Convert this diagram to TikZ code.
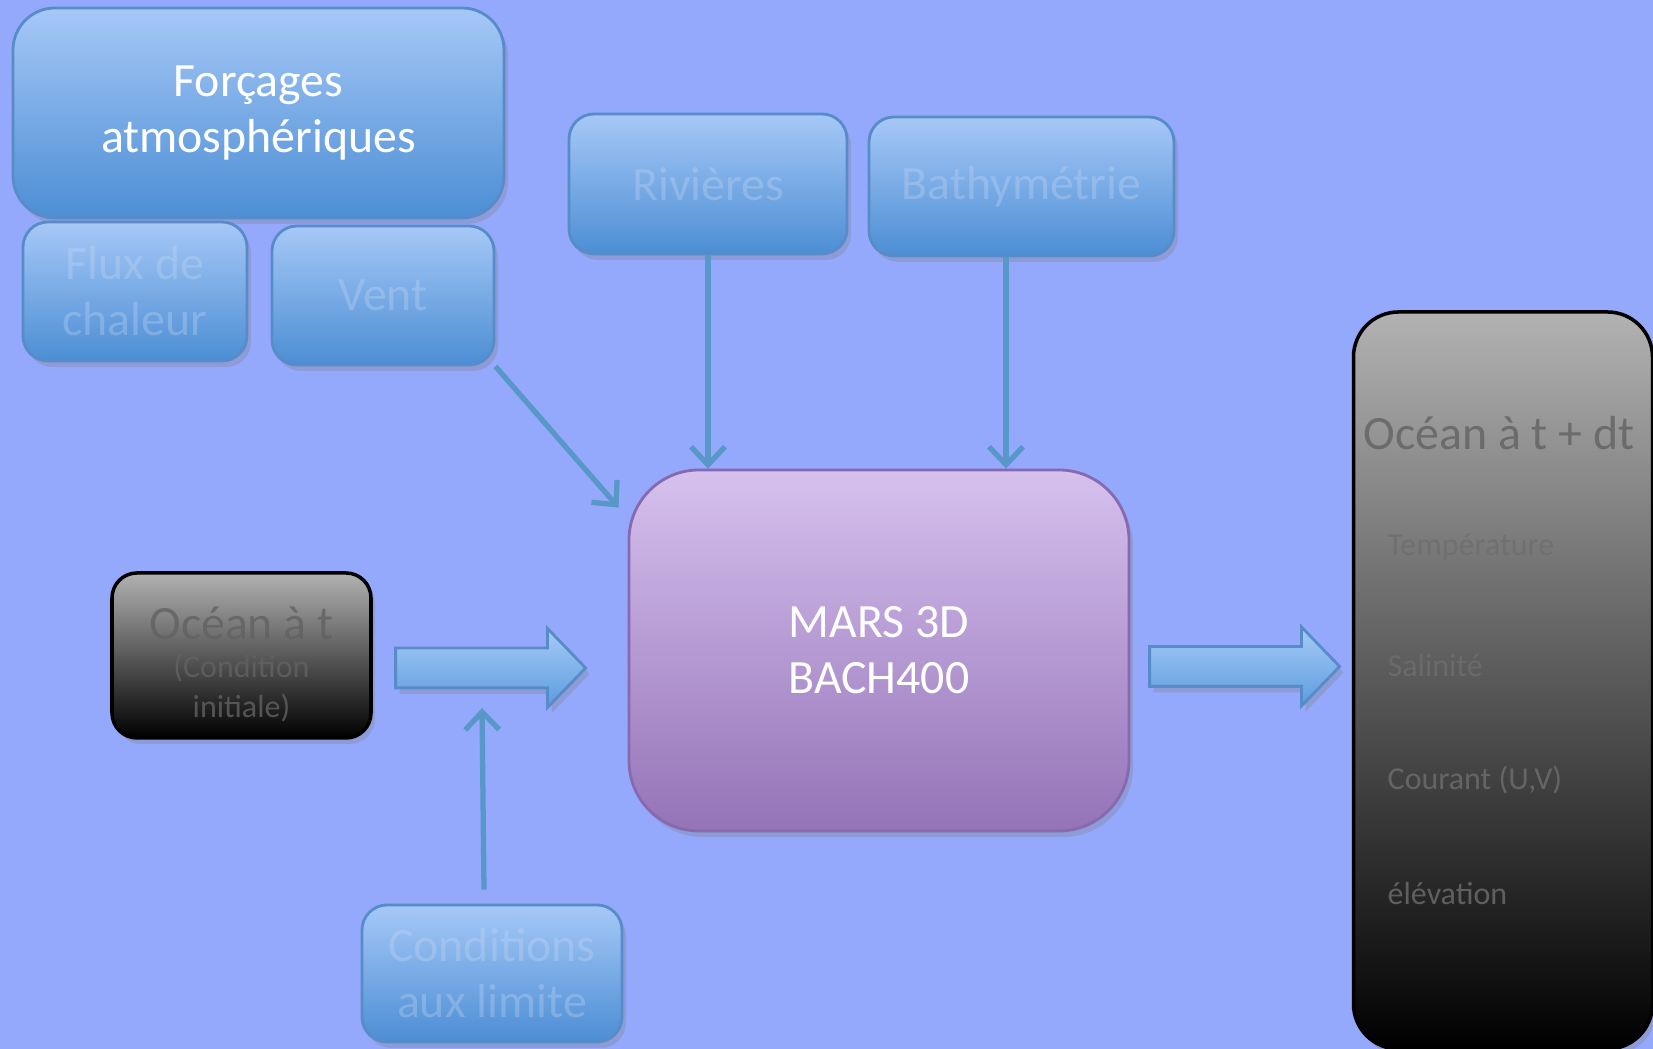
\documentclass[tikz,border=0pt]{standalone}
\usepackage{fontspec}
\setmainfont{Carlito}
\usetikzlibrary{shapes.arrows,shadows,arrows.meta}

\definecolor{fond}{RGB}{148,168,252}
\definecolor{boxtop}{RGB}{166,200,247}
\definecolor{boxbot}{RGB}{76,142,212}
\definecolor{boxline}{RGB}{88,140,200}
\definecolor{boxtxt}{RGB}{205,220,246}
\definecolor{marstop}{RGB}{214,193,238}
\definecolor{marsbot}{RGB}{148,115,183}
\definecolor{marsline}{RGB}{135,105,175}
\definecolor{gristop}{RGB}{178,178,178}
\definecolor{gristxt}{RGB}{98,98,98}
\definecolor{gristxtclair}{RGB}{110,110,110}
\definecolor{lien}{RGB}{88,152,200}
\definecolor{flechetop}{RGB}{166,203,246}
\definecolor{flechebot}{RGB}{92,156,222}

\newcommand\policegrande{\fontsize{13.6}{15.9}\selectfont}
\newcommand\policepetite{\fontsize{9.1}{11.4}\selectfont}

\begin{document}
\begin{tikzpicture}[
    ombre/.style={drop shadow={opacity=0.3,shadow xshift=0.04cm,shadow yshift=-0.06cm}},
    bleu/.style={ombre, rounded corners=0.25cm, draw=boxline, line width=0.8pt,
      top color=boxtop, bottom color=boxbot, text=boxtxt, text opacity=0.3,
      align=center, inner sep=0pt, font=\policegrande},
    ocean/.style={ombre, rounded corners=0.25cm, draw=black, line width=1pt,
      top color=gristop, bottom color=black, inner sep=0pt},
    texteocean/.style={text=gristxt, text opacity=0.8, align=center, inner sep=0pt},
    modele/.style={ombre, rounded corners=0.7cm, draw=marsline, line width=0.8pt,
      top color=marstop, bottom color=marsbot, text=white, align=center,
      inner sep=0pt, font=\policegrande},
    grossefleche/.style={ombre, single arrow, draw=boxline, line width=0.8pt,
      top color=flechetop, bottom color=flechebot, inner xsep=0pt, inner ysep=0.185cm,
      minimum height=1.9cm, minimum width=0.76cm,
      single arrow head extend=0.195cm, single arrow tip angle=92},
    lien/.style={draw=lien, line width=1.5pt,
      -{Straight Barb[length=1.8mm,width=3.4mm,line width=1.5pt]}},
    item/.style={texteocean, text=gristxtclair, anchor=west, font=\policepetite}
  ]

  \useasboundingbox (0,0) rectangle (16.53,10.49);
  \fill[fond] (0,0) rectangle (16.53,10.49);

  % forcages
  \node[bleu, rounded corners=0.42cm, text=white, text opacity=1, minimum width=4.91cm, minimum height=2.10cm]
    (forcage) at (2.585,9.36) {Forçages\\atmosphériques};
  \node[bleu, minimum width=2.24cm, minimum height=1.39cm] (flux) at (1.35,7.575) {Flux de\\chaleur};
  \node[bleu, minimum width=2.22cm, minimum height=1.39cm] (vent) at (3.83,7.535) {Vent};

  \node[bleu, minimum width=2.78cm, minimum height=1.40cm] (riv) at (7.08,8.65) {Rivières};
  \node[bleu, minimum width=3.05cm, minimum height=1.39cm] (bathy) at (10.215,8.625) {Bathymétrie};

  % modele
  \node[modele, minimum width=5.00cm, minimum height=3.61cm] (mars) at (8.79,3.985) {MARS 3D\\BACH400};

  \node[ocean, minimum width=2.59cm, minimum height=1.65cm] (oceanT) at (2.415,3.935) {};
  \node[texteocean, font=\policepetite] (oceanTtxt) at (2.415,3.845)
    {{\policegrande Océan à t}\\[-0.7pt](Condition\\initiale)};
  \node[bleu, minimum width=2.60cm, minimum height=1.37cm] (limite) at (4.92,0.755) {Conditions\\aux limite};

  % sortie
  \node[ocean, rounded corners=0.45cm, minimum width=2.99cm, minimum height=7.37cm] (oceanTdt) at (15.03,3.685) {};
  \node[texteocean, font=\policegrande] (titre) at (14.99,6.16) {Océan à t + dt};
  \node[item] (temp) at (13.87,5.02) {Température};
  \node[item] (sal) at (13.87,3.83) {Salinité};
  \node[item] (courant) at (13.87,2.69) {Courant (U,V)};
  \node[item] (elev) at (13.87,1.55) {élévation};

  \node[grossefleche] (arrA) at (4.81,3.81) {};
  \node[grossefleche] (arrB) at (12.35,3.825) {};

  \draw[lien] (vent.south east) -- ([shift={(-0.09,-0.39)}]mars.north west);
  \draw[lien] (riv.south) -- (riv.south |- mars.north);
  \draw[lien] ([xshift=-0.155cm]bathy.south) -- ([xshift=-0.155cm]bathy.south |- mars.north);
  \draw[lien] ([shift={(-0.08,0.14)}]limite.north) -- ([shift={(0.01,-0.40)}]arrA.center);

\end{tikzpicture}
\end{document}
